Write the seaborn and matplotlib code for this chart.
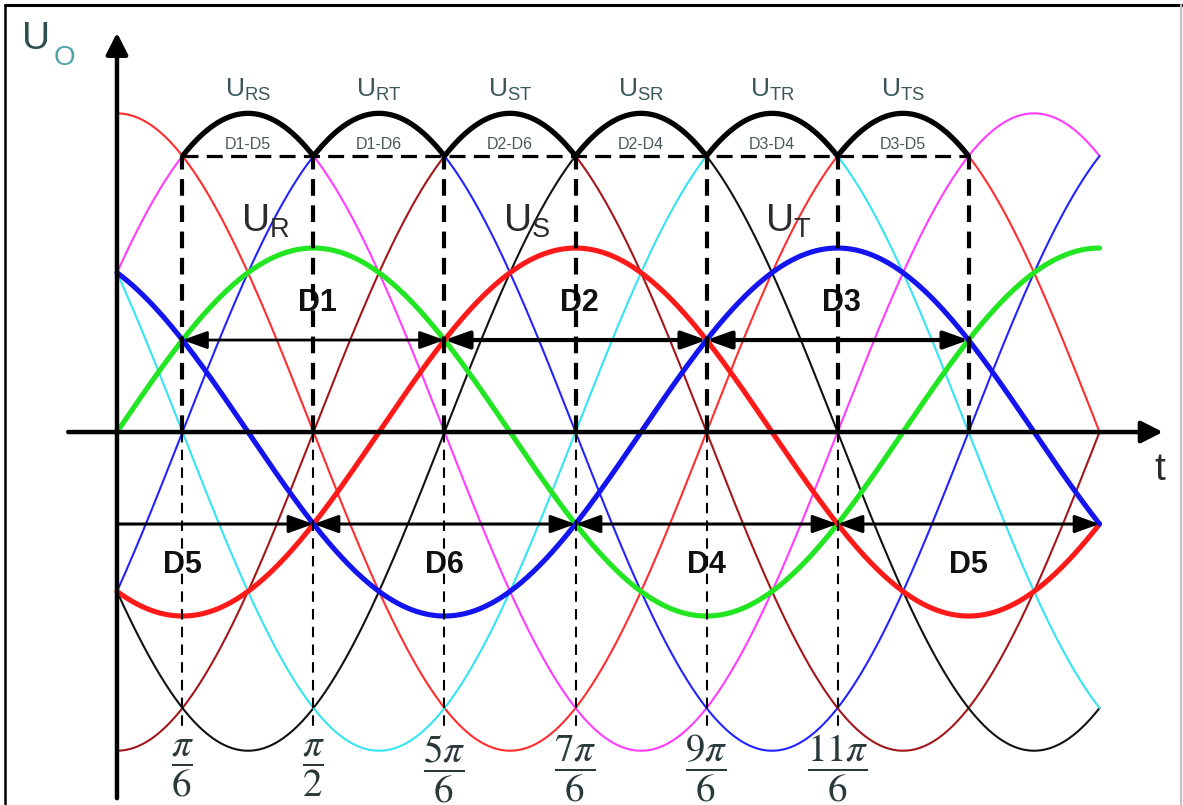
import numpy as np
import pandas as pd
import matplotlib.pyplot as plt
from matplotlib.lines import Line2D
import seaborn as sns

sns.set_theme(style="white")
plt.rcParams["font.family"] = ["Liberation Sans", "DejaVu Sans"]

# phase voltages (name, phase shift in degrees)
phase_names = ["R", "S", "T"]
phase_shift_deg = [0, -120, 120]
phase_amplitude = 1.0

# line-to-line voltages: angle of the positive peak in degrees
line_peak_deg = [0, 60, 120, 180, 240, 300]
line_amplitude = np.sqrt(3)

# rectified arches and the diode pair conducting in each one
arch_labels = ["RS", "RT", "ST", "SR", "TR", "TS"]
diode_pairs = ["D1-D5", "D1-D6", "D2-D6", "D2-D4", "D3-D4", "D3-D5"]

# conduction intervals of the upper and lower diodes (degrees)
upper_diodes = ["D1", "D2", "D3"]
upper_start = [30, 150, 270]
upper_end = [150, 270, 390]
lower_diodes = ["D5", "D6", "D4", "D5"]
lower_start = [0, 90, 210, 330]
lower_end = [90, 210, 330, 450]

# time axis ticks
tick_deg = [30, 90, 150, 210, 270, 330]
tick_labels = [r"$\dfrac{\pi}{6}$", r"$\dfrac{\pi}{2}$", r"$\dfrac{5\pi}{6}$",
               r"$\dfrac{7\pi}{6}$", r"$\dfrac{9\pi}{6}$", r"$\dfrac{11\pi}{6}$"]
t_end_deg = 450

phase_colors = ["#22e622", "#ff1a1a", "#1414f0"]
line_colors = ["#ff2e2e", "#ff3cff", "#2323ff", "#a3161a", "#111111", "#35e4f2"]

fig = plt.figure(figsize=(11.83, 8.05), dpi=100)
ax = fig.add_axes([0, 0, 1, 1])
ax.set_xlim(-0.935, 8.521)
ax.set_ylim(-2.027, 2.348)
ax.axis("off")

t = np.linspace(0, np.deg2rad(t_end_deg), 2000)

# thin line-to-line voltages
line_vals = []
for peak, col in zip(line_peak_deg, line_colors):
    u = line_amplitude * np.cos(t - np.deg2rad(peak))
    line_vals.append(u)
    sns.lineplot(x=t, y=u, ax=ax, color=col, linewidth=1.5,
                 estimator=None, sort=False, zorder=2)

# thick phase voltages
for shift, col in zip(phase_shift_deg, phase_colors):
    u = phase_amplitude * np.sin(t + np.deg2rad(shift))
    sns.lineplot(x=t, y=u, ax=ax, color=col, linewidth=3.7,
                 estimator=None, sort=False, zorder=3)

# rectified output envelope
comm_deg = [30 + 60 * k for k in range(len(arch_labels) + 1)]
t0, t1 = np.deg2rad(comm_deg[0]), np.deg2rad(comm_deg[-1])
mask = (t >= t0) & (t <= t1)
env = pd.DataFrame({"t": t[mask], "u": np.max(np.array(line_vals), axis=0)[mask]})
sns.lineplot(data=env, x="t", y="u", ax=ax, color="black", linewidth=3.8,
             estimator=None, sort=False, zorder=6)

# commutation dashed lines
u_min = line_amplitude * np.cos(np.deg2rad(30))
ax.plot([t0, t1], [u_min, u_min], color="black", lw=2.3, dashes=(5, 2.6), zorder=5)
for d in comm_deg:
    x = np.deg2rad(d)
    ax.plot([x, x], [0, u_min], color="black", lw=3.0, dashes=(4, 2.3), zorder=5)
for d in tick_deg:
    x = np.deg2rad(d)
    ax.plot([x, x], [0, -1.6], color="black", lw=1.5, dashes=(5, 3.5), zorder=5)

# axes with arrows
axis_arrow = dict(arrowstyle="-|>,head_length=0.65,head_width=0.33",
                  lw=3.2, color="black", mutation_scale=20, shrinkA=0, shrinkB=0)
ax.annotate("", xy=(8.36, 0), xytext=(-0.39, 0), arrowprops=axis_arrow, zorder=7)
ax.annotate("", xy=(0, 2.17), xytext=(0, -1.99), arrowprops=axis_arrow, zorder=7)

# conduction arrows
for name, a, b in zip(upper_diodes, upper_start, upper_end):
    lw = 2.0 if name == "D1" else 3.0
    ax.annotate("", xy=(np.deg2rad(b), 0.5), xytext=(np.deg2rad(a), 0.5),
                arrowprops=dict(arrowstyle="<|-|>,head_length=0.75,head_width=0.27",
                                lw=lw, color="black", mutation_scale=20,
                                shrinkA=0, shrinkB=0), zorder=8)
    ax.text(np.deg2rad((a + b) / 2) + 0.03, 0.70, name, ha="center", va="center",
            fontsize=22, fontweight="bold", color="#111111", zorder=4)
lower_label_deg = [30, 150, 270, 390]
for i, (name, a, b) in enumerate(zip(lower_diodes, lower_start, lower_end)):
    style = "-|>" if i == 0 else "<|-|>"
    ax.annotate("", xy=(np.deg2rad(b), -0.5), xytext=(np.deg2rad(a), -0.5),
                arrowprops=dict(arrowstyle=style + ",head_length=0.75,head_width=0.27",
                                lw=2.2, color="black", mutation_scale=20,
                                shrinkA=0, shrinkB=0), zorder=8)
    ax.text(np.deg2rad(lower_label_deg[i]), -0.72, name, ha="center", va="center",
            fontsize=22, fontweight="bold", color="#111111", zorder=4)

# arch labels
for k, (lab, pair) in enumerate(zip(arch_labels, diode_pairs)):
    xc = np.deg2rad(60 + 60 * k)
    ax.text(xc, 1.82, r"$\mathregular{U_{%s}}$" % lab, ha="center", va="baseline",
            fontsize=19, color="#3b5757", zorder=9)
    ax.text(xc, 1.565, pair, ha="center", va="center", fontsize=11.5,
            color="#4a5858", zorder=9)

# phase labels
for name, shift in zip(phase_names, phase_shift_deg):
    xp = (np.pi / 2 - np.deg2rad(shift)) % (2 * np.pi)
    ax.text(xp - 0.58, 1.087, r"$\mathregular{U_{%s}}$" % name, ha="left",
            va="baseline", fontsize=28, color="#2b2b2b", zorder=9)

# tick labels
for d, lab in zip(tick_deg, tick_labels):
    ax.text(np.deg2rad(d), -1.83, lab, ha="center", va="center", fontsize=28,
            color="#2a3a3a", math_fontfamily="stix", zorder=9)

ax.text(8.337, -0.207, "t", ha="center", va="center", fontsize=28, color="#2b2b2b")
ax.text(-0.647, 2.136, "U", ha="center", va="center", fontsize=28, color="#2f4f4f")
ax.text(-0.416, 2.033, "O", ha="center", va="center", fontsize=20, color="#4fa3aa")

# frame
fig.add_artist(Line2D([0.0042, 0.0042], [0, 0.994], color="black", lw=1.8))
fig.add_artist(Line2D([0.0042, 1], [0.994, 0.994], color="black", lw=2.2))
fig.add_artist(Line2D([0.9985, 0.9985], [0, 0.994], color="#c0c0c0", lw=1.5))

fig.savefig("out.png", dpi=100)
